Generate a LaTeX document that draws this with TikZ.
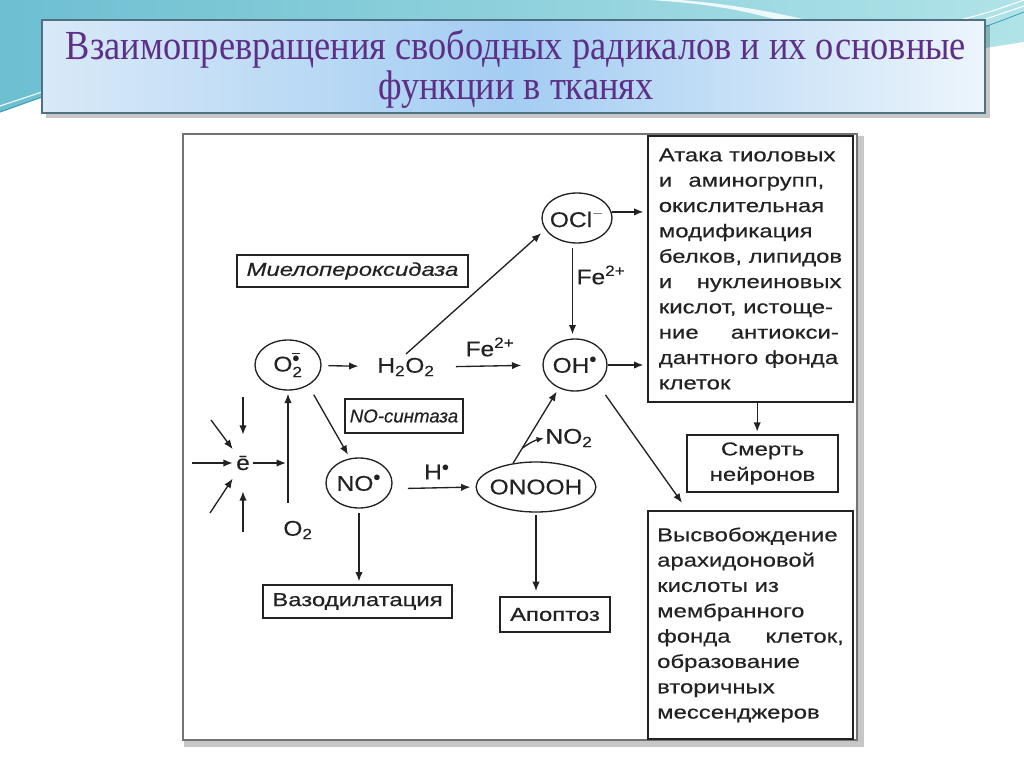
\documentclass[tikz,border=0pt]{standalone}
\usepackage{fontspec}
\usepackage{amsmath}
\usetikzlibrary{shapes.geometric,arrows.meta,calc}
\setmainfont{Liberation Serif}
\newfontfamily\dfont[FakeStretch=1.28,FakeBold=0.35]{Liberation Sans}
\newfontfamily\cfont[FakeStretch=1.15,FakeBold=0.35]{Liberation Sans}
\newfontfamily\nfont[FakeBold=0.35]{Liberation Sans}
\newfontfamily\tfont[FakeStretch=0.88]{Liberation Serif}
\definecolor{teala}{HTML}{6DBFD1}
\definecolor{tealb}{HTML}{B0E3E8}
\definecolor{tealc}{HTML}{3E9DB0}
\definecolor{tba}{HTML}{D8E9F8}
\definecolor{tbb}{HTML}{A3CDF2}
\definecolor{tbc}{HTML}{EDF5FC}
\definecolor{tbord}{HTML}{4E7282}
\definecolor{titlec}{HTML}{5E2F86}
\definecolor{ink}{HTML}{222222}
\newcommand{\jl}[2]{\makebox[#1][s]{#2}}
\begin{document}
\begin{tikzpicture}[x=0.75pt,y=-0.75pt,
  arr/.style={draw=ink, line width=1pt, -{Latex[length=7pt,width=5.5pt]}},
  oval/.style={ellipse, draw=ink, line width=1pt, inner xsep=-3pt, inner ysep=0pt, text=ink,
    font=\cfont\fontsize{16}{18}\selectfont},
  chem/.style={inner sep=0pt, text=ink, font=\cfont\fontsize{16}{18}\selectfont},
  lbl/.style={draw=ink, line width=0.9pt, inner sep=0pt, text=ink,
    font=\dfont\itshape\fontsize{14}{17}\selectfont},
  rbox/.style={draw=ink, line width=0.9pt, inner sep=0pt, text=ink,
    font=\dfont\fontsize{14}{17}\selectfont},
  tbox/.style={draw=ink, line width=0.9pt, inner sep=0pt, align=left, text=ink,
    font=\dfont\fontsize{14}{19}\selectfont},
  titlestyle/.style={align=center, text=titlec, inner sep=0pt,
    font=\tfont\fontsize{31}{30}\selectfont}
]
\useasboundingbox (0,0) rectangle (1024,767);
\fill[white] (0,0) rectangle (1024,767);
% background decoration
\shade[left color=teala, right color=tealb] (0,0) -- (1024,0) -- (1024,42) -- (985,48) -- (42,97) -- (0,112) -- cycle;
\fill[white, opacity=0.85] (680,0) .. controls (730,4) and (775,12) .. (815,22) -- (785,22) .. controls (750,12) and (715,4) .. (650,0) -- cycle;
\draw[white, line width=0.8pt] (960,20) .. controls (990,12) .. (1024,0);
\draw[white, line width=0.8pt] (965,26) .. controls (995,16) .. (1024,6);
\draw[tealc, line width=0.6pt] (970,32) .. controls (998,22) .. (1024,12);
\draw[tealc, line width=0.8pt] (0,112) -- (42,97);
\draw[white, line width=0.8pt] (0,106) -- (42,92);
% title box
\fill[black, opacity=0.22] (46,25) rectangle (990,118);
\shade[left color=tba, right color=tbb] (42,20) rectangle (514,113);
\shade[left color=tbb, right color=tbc] (514,20) rectangle (985,113);
\draw[tbord, line width=1.2pt] (42,20) rectangle (985,113);
\node[titlestyle] (title) at (516,69) {Взаимопревращения свободных радикалов и их основные\\функции в тканях};
% diagram frame
\draw[black!22, line width=5pt] (187,139) rectangle (861,744);
\draw[fill=white, draw=black!55, line width=2.2pt] (183,134) rectangle (857,740);

% ovals
\node[oval, minimum width=49.5pt, minimum height=37.5pt] (o2r) at (288,365) {$\text{O}^{\overline{\bullet}}_{\text{2}}$};
\node[oval, minimum width=52.5pt, minimum height=37.5pt] (ocl) at (577,218) {$\text{OCl}^{-}$};
\node[oval, minimum width=48pt, minimum height=39pt] (oh) at (575,365) {$\text{OH}^{\bullet}$};
\node[oval, minimum width=49.5pt, minimum height=37.5pt] (no) at (359,483) {$\text{NO}^{\bullet}$};
\node[oval, minimum width=85.5pt, minimum height=37.5pt] (onooh) at (536,487) {ONOOH};

% formulas
\node[chem] (h2o2) at (406,367) {$\text{H}_{\text{2}}\text{O}_{\text{2}}$};
\node[chem] (o2) at (298,530) {O$_{\text{2}}$};
\node[chem] (fe1) at (490,347) {Fe$^{\text{2+}}$};
\node[chem] (fe2) at (601,275) {Fe$^{\text{2+}}$};
\node[chem] (hdot) at (437,472) {H$^{\bullet}$};
\node[chem] (no2) at (569,438) {NO$_{\text{2}}$};
\node[chem, minimum width=15pt, minimum height=42pt] (e) at (243,463) {ē};

% labels
\node[lbl, minimum width=173.25pt, minimum height=24pt] (myelo) at (352.5,271) {Миелопероксидаза};
\node[lbl, font=\nfont\itshape\fontsize{14}{17}\selectfont, minimum width=88.5pt, minimum height=25.5pt] (nosyn) at (404,416) {NO-синтаза};
\node[rbox, minimum width=141.75pt, minimum height=24.75pt] (vaso) at (357.5,601.5) {Вазодилатация};
\node[rbox, minimum width=82.5pt, minimum height=26.25pt] (apop) at (555,614.5) {Апоптоз};

% right boxes
\node[tbox, minimum width=153.75pt, minimum height=199.5pt] (box1) at (750.5,269)
 {Атака тиоловых\\ \jl{124pt}{и аминогрупп,}\\ окислительная\\ модификация\\ белков, липидов\\
  \jl{137pt}{и нуклеиновых}\\ кислот, истоще-\\ \jl{135pt}{ние антиокси-}\\ дантного фонда\\ клеток};
\node[tbox, align=center, minimum width=113.25pt, minimum height=42.75pt] (box2) at (762.5,463.5) {Смерть\\нейронов};
\node[tbox, minimum width=153.75pt, minimum height=171pt] (box3) at (750.5,625)
 {Высвобождение\\ арахидоновой\\ кислоты из\\ мембранного\\ \jl{140pt}{фонда клеток,}\\ образование\\ вторичных\\ мессенджеров};

% connectors
\draw[arr, shorten <=5pt, shorten >=14pt] (o2r) -- (h2o2);
\coordinate (hn) at ([xshift=-3pt]h2o2.north);
\draw[arr, shorten <=4pt, shorten >=4pt] (hn) -- (ocl.200);
\draw[arr, shorten <=15.75pt, shorten >=15.75pt] (h2o2.east) -- (oh.west);
\draw[arr, shorten >=3pt] (ocl.10) -- (ocl.10 -| box1.west);
\draw[arr, shorten <=3.5pt, shorten >=3pt] (ocl.260) -- (ocl.260 |- oh.north);
\draw[arr, shorten >=3pt] (oh.east) -- (oh.east -| box1.west);
\draw[arr, shorten <=10pt, shorten >=7pt] (oh.-40) -- ([xshift=30pt]box3.north west);
\draw[arr, shorten >=3pt] (onooh.134) -- (oh.235) coordinate[pos=0.2] (nb);
\draw[arr, -{Latex[length=5.5pt,width=4.5pt]}, shorten >=1pt] (nb) to[bend left=12] (no2.west);
\draw[arr, shorten <=8pt, shorten >=3pt] (o2r.-45) -- (no.110);
\draw[arr, shorten <=12pt, shorten >=3.75pt] (no.-10) -- (onooh.west);
\draw[arr, shorten <=3pt, shorten >=2.25pt] (no.south) -- (no.south |- vaso.north);
\draw[arr, shorten <=2pt, shorten >=4pt] (onooh.south) -- (onooh.south |- apop.north);
\coordinate (o2top) at ([yshift=13.5pt]o2.north);
\draw[arr, shorten >=2.25pt] (o2top -| o2r.south) -- (o2r.south);
\coordinate (ej) at (e -| o2r.south);
\draw[arr, shorten >=1.5pt] (e) -- (ej);
\coordinate (eL) at (192,463);
\coordinate (eT) at (243,397);
\coordinate (eUL) at (211,420);
\coordinate (eLL) at (210,513);
\coordinate (eB) at (243,532);
\draw[arr] (eL) -- (e);
\draw[arr] (eT) -- (e);
\draw[arr] (eUL) -- (e);
\draw[arr] (eLL) -- (e);
\draw[arr] (eB) -- (e);
\coordinate (b1s) at ([xshift=5pt]box1.south);
\draw[arr, shorten >=2pt] (b1s) -- (b1s |- box2.north);
\end{tikzpicture}
\end{document}
